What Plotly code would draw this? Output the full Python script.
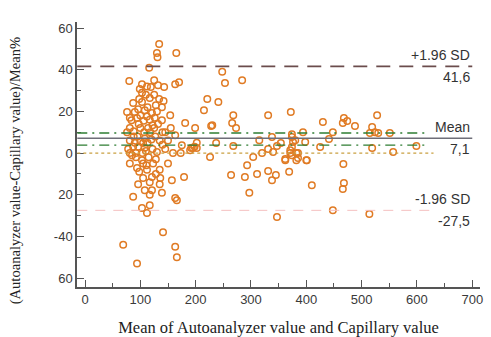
import plotly.graph_objects as go

# Bland-Altman data: mean of methods (x) vs % difference (y)
mean_vals = [
    134,130,131,165,116,80,103,99,103,119,132,143,163,170,87,103,117,134,139,76,90,108,121,154,81,96,128,112,126,139,
    84,94,106,117,122,181,199,81,88,100,107,145,163,81,90,100,105,113,87,96,108,202,202,81,92,104,159,190,92,103,105,81,
    111,123,94,121,136,117,157,179,108,121,139,87,163,166,117,103,112,141,69,163,166,94,
    110,125,98,113,130,118,127,135,140,122,130,115,128,135,98,112,145,150,155,125,95,85,108,120,132,100,142,114,128,117,
    105,97,88,112,125,96,135,110,140,150,76,78,
    248,253,284,221,241,215,268,266,273,331,372,430,230,448,374,394,315,338,354,380,398,441,237,268,347,425,195,320,331,
    304,371,374,385,226,362,382,400,293,331,345,338,264,289,311,369,410,297,448,347,
    528,468,466,474,488,519,524,515,530,551,519,557,599,467,468,466,514,
    374,376,374,340,371,382,385,362,401,228,175,173,198,192,
]
pct_diff = [
    52.3,48,46,48,41,34.6,33,30.7,29,31.7,32.6,31.7,33,34,24,24.5,26.4,26,22,19.7,19.7,20.6,19.2,18.2,17,21,23,17.5,17,15.8,
    15.8,16.8,15.5,16,13.4,14.4,12,12,10.5,12,10,10,8.6,6,5,5.5,4.8,5,3,3,2.5,5,2.4,0,0,0,0,1.4,-2,-3.4,-5,-5,
    -5.8,-5,-7.2,-11.5,-12,-14,-13,-11.5,-17.8,-17.8,-19,-21,-21.6,-22.6,-25,-26.4,-28.8,-38,-44,-45,-50,-53,
    28,28,26,22,20,10,8,6,4,2,0.5,-2,-3,-8,-9,-8,2,6,12,12,8,-1,7,6.5,14,18,25,12,-10,-20,
    -12,14,8,32,35,-15,-15,1,10,-5,10,2,
    39,33.6,35,26,24.5,20.6,18.2,14.4,12,18.2,19.7,14.9,13.4,10,9,10,6.2,7.7,4.8,6.2,5.3,6.7,4.8,3.4,3.4,2.9,2.4,0,1.9,
    -1.9,1.4,-1,0,-1.9,-3.4,-3.4,-3.4,-5.8,-8.6,-10.5,-13,-10.5,-11.5,-10,-9,-15.4,-19,-27.4,-30.7,
    18.2,16.8,14.4,15.4,13,12.5,10,9.6,9.6,9.6,2.4,0.5,3.4,-5.3,-14.4,-17.3,-29.3,
    7.7,5.3,2.9,0.5,0,0,-2.4,-2.9,-3.4,13,3.8,0,3,2.4,
]

mean_diff = 7.1
upper_loa = 41.6
lower_loa = -27.5
ci_mean = [9.6, 3.8]

y_ticks = [60, 40, 20, 0, -20, -40, -60]
y_ticktext = ["60", "40", "20", "0", "20", "-40", "60"]
x_ticks = [0, 100, 200, 300, 400, 500, 600, 700]
x_title = "Mean of Autoanalyzer value and Capillary value"
y_title = "(Autoanalyzer value-Capillary value)/Mean%"

fig = go.Figure()
fig.add_trace(go.Scatter(
    x=mean_vals, y=pct_diff, mode="markers",
    marker=dict(symbol="circle-open", size=6.5, color="#e07b24", line=dict(width=1.5, color="#e07b24")),
    showlegend=False, hoverinfo="skip",
))

def hline(y, x1, color, width, dash):
    fig.add_shape(type="line", xref="x", yref="y", x0=-14, x1=x1, y0=y, y1=y,
                  line=dict(color=color, width=width, dash=dash), layer="above")

hline(upper_loa, 700, "#6b4c4c", 1.6, "14px,9px")
hline(mean_diff, 700, "#6e6e78", 1.6, "solid")
hline(ci_mean[0], 620, "#2e7d32", 1.4, "10px,5px,2px,5px")
hline(ci_mean[1], 620, "#2e7d32", 1.4, "10px,5px,2px,5px")
hline(0, 630, "#c9a040", 1.3, "3px,3px")
hline(lower_loa, 635, "#f5c0c0", 1.0, "10px,8px")

lab_font = dict(family="Liberation Sans, Arial, sans-serif", size=14, color="#333333")
labels = [
    ("+1.96 SD", upper_loa, "bottom"), (f"{upper_loa}".replace(".", ","), upper_loa, "top"),
    ("Mean", mean_diff, "bottom"), (f"{mean_diff}".replace(".", ","), mean_diff, "top"),
    ("-1.96 SD", lower_loa, "bottom"), (f"{lower_loa}".replace(".", ","), lower_loa, "top"),
]
for txt, yv, pos in labels:
    fig.add_annotation(x=700, y=yv, xref="x", yref="y", text=txt, showarrow=False,
                       xanchor="right", yanchor=pos, yshift=(1 if pos == "bottom" else -1),
                       font=lab_font)

axis_common = dict(showline=True, linecolor="#555555", linewidth=1.5, ticks="inside",
                   ticklen=7, tickcolor="#555555", tickwidth=1.3, showgrid=False, zeroline=False,
                   automargin=False,
                   tickfont=dict(family="Liberation Sans, Arial, sans-serif", size=13, color="#3a3a3a"),
                   minor=dict(ticks="inside", ticklen=4, tickcolor="#555555", tickwidth=1.2))

fig.update_xaxes(range=[-14.5, 714], tickvals=x_ticks, **axis_common,
                 title=dict(text=x_title, standoff=22,
                            font=dict(family="Liberation Serif, Times New Roman, serif", size=16.5, color="#222222")))
fig.update_yaxes(range=[-64.3, 62.9], tickvals=y_ticks, ticktext=y_ticktext, **axis_common)
fig.update_xaxes(minor_tickvals=[50, 150, 250, 350, 450, 550, 650])
fig.update_yaxes(minor_tickvals=[50, 30, 10, -10, -30, -50])

fig.add_annotation(xref="paper", yref="paper", x=-0.154, y=0.44, text=y_title, textangle=-90,
                   showarrow=False, xanchor="center", yanchor="middle",
                   font=dict(family="Liberation Serif, Times New Roman, serif", size=14.6, color="#222222"))

fig.update_layout(width=491, height=337, margin=dict(l=77, r=11, t=22, b=50),
                  plot_bgcolor="white", paper_bgcolor="white")

fig.write_html("out.html", config={"displayModeBar": False},
               post_script="document.body.style.margin='0';")
